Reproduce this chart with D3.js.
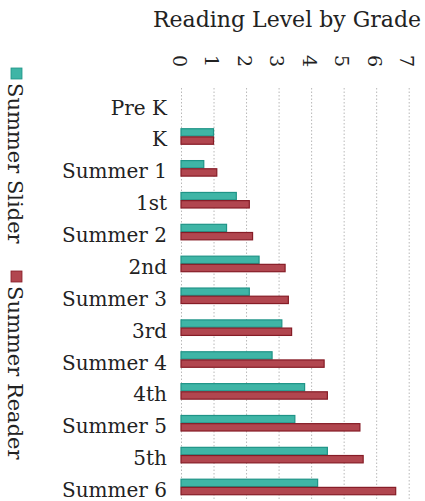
<!DOCTYPE html>
<html>
<head>
<meta charset="utf-8">
<script src="https://cdn.jsdelivr.net/npm/d3@7"></script>
<style>
  html, body { margin: 0; padding: 0; background: #fff; }
  svg { display: block; }
  text { font-family: "DejaVu Serif", serif; fill: #222; }
</style>
</head>
<body>
<svg id="chart" width="425" height="501"></svg>
<script>
// Reading level by grade for two groups of students
const categories = ["Pre K", "K", "Summer 1", "1st", "Summer 2", "2nd", "Summer 3",
                    "3rd", "Summer 4", "4th", "Summer 5", "5th", "Summer 6"];
const seriesNames = ["Summer Slider", "Summer Reader"];
const summerSlider = [null, 1.0, 0.7, 1.7, 1.4, 2.4, 2.1, 3.1, 2.8, 3.8, 3.5, 4.5, 4.2];
const summerReader = [null, 1.0, 1.1, 2.1, 2.2, 3.2, 3.3, 3.4, 4.4, 4.5, 5.5, 5.6, 6.6];
const tickValues = [0, 1, 2, 3, 4, 5, 6, 7];
const title = "Reading Level by Grade";

const colors = {
  "Summer Slider": { fill: "#3fb5a6", stroke: "#1f9487" },
  "Summer Reader": { fill: "#b1464f", stroke: "#861c26" }
};

const svg = d3.select("#chart");

const x = d3.scaleLinear().domain([0, 7]).range([181, 408.7]);
const y = d3.scaleBand().domain(categories).range([88.7, 502.9]).padding(0);
const ySub = d3.scaleBand().domain(seriesNames)
  .range([0, y.bandwidth()]).paddingInner(0.1).paddingOuter(1.0);

// Title
svg.append("text")
  .attr("x", 153).attr("y", 27)
  .attr("font-size", 22)
  .text(title);

// Dotted vertical gridlines
const grid = svg.append("g")
  .attr("transform", "translate(0,88)")
  .call(d3.axisBottom(x).tickValues(tickValues).tickSize(413).tickFormat(""));
grid.select(".domain").remove();
grid.selectAll(".tick line")
  .attr("stroke", "#b8b8b8")
  .attr("stroke-width", 1)
  .attr("stroke-dasharray", "1.5,2");

// Rotated tick labels along the top
const topAxis = svg.append("g")
  .attr("transform", "translate(0,61)")
  .call(d3.axisTop(x).tickValues(tickValues).tickSize(0).tickPadding(0).tickFormat(d3.format("d")));
topAxis.select(".domain").remove();
topAxis.selectAll(".tick text")
  .attr("font-family", "DejaVu Serif, serif")
  .attr("font-size", 19)
  .attr("fill", "#222")
  .attr("text-anchor", "middle")
  .attr("dominant-baseline", "central")
  .attr("y", 0).attr("dy", 0)
  .attr("transform", "translate(-2,0) rotate(90)");

// Category labels
svg.append("g").selectAll("text")
  .data(categories)
  .join("text")
  .attr("x", 167)
  .attr("y", d => y(d) + y.bandwidth() / 2 + 10)
  .attr("text-anchor", "end")
  .attr("font-size", 20)
  .text(d => d);

// Bars
const rows = categories.map((c, i) => ({
  category: c,
  values: [
    { name: "Summer Slider", value: summerSlider[i] },
    { name: "Summer Reader", value: summerReader[i] }
  ].filter(v => v.value != null)
}));

svg.append("g").selectAll("g")
  .data(rows)
  .join("g")
  .attr("transform", d => `translate(0,${y(d.category)})`)
  .selectAll("rect")
  .data(d => d.values)
  .join("rect")
  .attr("x", x(0))
  .attr("y", d => ySub(d.name))
  .attr("width", d => x(d.value) - x(0))
  .attr("height", ySub.bandwidth())
  .attr("fill", d => colors[d.name].fill)
  .attr("stroke", d => colors[d.name].stroke)
  .attr("stroke-width", 1.2);

// Legend, rotated to read top-to-bottom
const legendPos = [
  { name: "Summer Slider", sq: 68, txt: 83 },
  { name: "Summer Reader", sq: 271, txt: 286 }
];
const legend = svg.append("g");
legendPos.forEach(l => {
  legend.append("rect")
    .attr("x", 11).attr("y", l.sq)
    .attr("width", 11).attr("height", 11)
    .attr("fill", colors[l.name].fill)
    .attr("stroke", colors[l.name].stroke)
    .attr("stroke-width", 0.8);
  legend.append("text")
    .attr("transform", `translate(8,${l.txt}) rotate(90)`)
    .attr("font-size", 21)
    .text(l.name);
});
</script>
</body>
</html>
